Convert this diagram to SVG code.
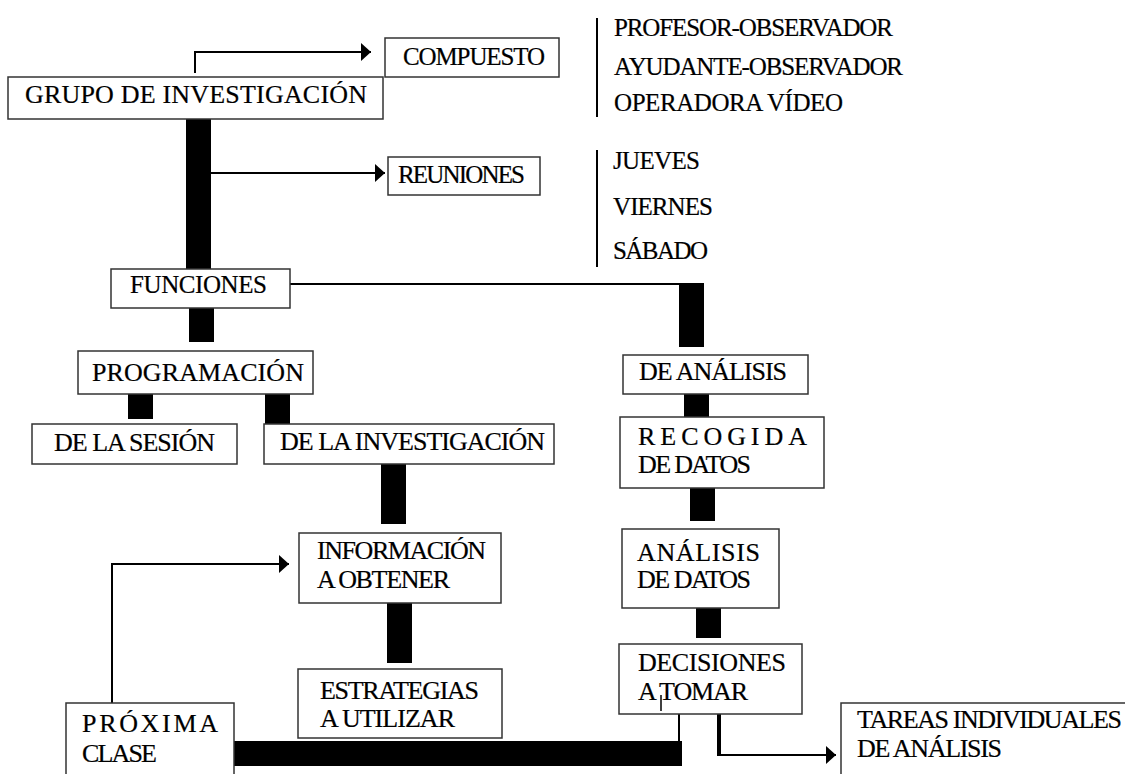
<svg xmlns="http://www.w3.org/2000/svg" width="1125" height="774" viewBox="0 0 1125 774">
<style>
.box{fill:#fff;stroke:#333;stroke-width:1.5}
.t{font-family:'Liberation Serif','Times New Roman',serif;font-size:26px;fill:#000;stroke:#000;stroke-width:0.2}
.s{font-family:'Liberation Serif','Times New Roman',serif;font-size:25px;fill:#000;stroke:#000;stroke-width:0.2}
.bar{fill:#000}
.ln{fill:none;stroke:#000;stroke-width:2}
</style>
<defs>
<marker id="ah" viewBox="0 0 10 18" refX="10" refY="9" markerWidth="10" markerHeight="18" markerUnits="userSpaceOnUse" orient="auto">
<path d="M0,0 L10,9 L0,18 Z" fill="#000"/>
</marker>
</defs>
<rect width="1125" height="774" fill="#fff"/>
<g id="connectors">
<rect class="bar" x="186" y="119" width="25" height="150"/>
<rect class="bar" x="189" y="308" width="25" height="34"/>
<rect class="bar" x="128" y="394" width="25" height="25"/>
<rect class="bar" x="265" y="392" width="25" height="32"/>
<rect class="bar" x="381" y="464" width="25" height="60"/>
<rect class="bar" x="387" y="600" width="25" height="63"/>
<rect class="bar" x="679" y="283" width="25" height="64"/>
<rect class="bar" x="684" y="394" width="25" height="23"/>
<rect class="bar" x="690" y="488" width="25" height="33"/>
<rect class="bar" x="696" y="608" width="25" height="30"/>
<rect class="bar" x="234" y="741" width="448" height="25"/>
<path class="ln" d="M195,73 V52 H371" marker-end="url(#ah)"/>
<path class="ln" d="M211,173 H385" marker-end="url(#ah)"/>
<path class="ln" d="M290,284 H704"/>
<path class="ln" d="M112,703 V564 H289" marker-end="url(#ah)"/>
<path class="ln" d="M679,714 V742"/>
<rect class="bar" x="717" y="714" width="4" height="42"/>
<path class="ln" d="M719,755 H836" marker-end="url(#ah)"/>
<line class="ln" x1="597" y1="18" x2="597" y2="117"/>
<line class="ln" x1="597" y1="150" x2="597" y2="267"/>
</g>
<g id="grupo">
<rect class="box" x="8" y="77" width="375" height="42"/>
<text class="t" x="25" y="103" font-size="27" textLength="342">GRUPO DE INVESTIGACIÓN</text>
</g>
<g id="compuesto">
<rect class="box" x="385" y="38" width="174" height="39"/>
<text class="s" x="403" y="65" textLength="142">COMPUESTO</text>
</g>
<g id="compuesto-lista">
<text class="s" x="614" y="36" textLength="279">PROFESOR-OBSERVADOR</text>
<text class="s" x="614" y="75" textLength="289">AYUDANTE-OBSERVADOR</text>
<text class="s" x="614" y="111" textLength="229">OPERADORA VÍDEO</text>
</g>
<g id="reuniones">
<rect class="box" x="388" y="157" width="152" height="38"/>
<text class="s" x="398" y="183" textLength="127">REUNIONES</text>
</g>
<g id="reuniones-lista">
<text class="s" x="613" y="169" textLength="87">JUEVES</text>
<text class="s" x="613" y="215" textLength="100">VIERNES</text>
<text class="s" x="613" y="259" textLength="95">SÁBADO</text>
</g>
<g id="funciones">
<rect class="box" x="111" y="269" width="179" height="39"/>
<text class="s" x="130" y="293" textLength="137">FUNCIONES</text>
</g>
<g id="programacion">
<rect class="box" x="78" y="351" width="235" height="43"/>
<text class="t" x="92" y="381" font-size="28" textLength="212">PROGRAMACIÓN</text>
</g>
<g id="sesion">
<rect class="box" x="32" y="424" width="205" height="40"/>
<text class="t" x="54" y="451" textLength="161">DE LA SESIÓN</text>
</g>
<g id="investigacion">
<rect class="box" x="264" y="424" width="290" height="40"/>
<text class="t" x="280" y="450" textLength="265">DE LA INVESTIGACIÓN</text>
</g>
<g id="informacion">
<rect class="box" x="299" y="533" width="202" height="70"/>
<text class="t" x="317" y="559" textLength="169">INFORMACIÓN</text>
<text class="t" x="317" y="588" textLength="133">A OBTENER</text>
</g>
<g id="estrategias">
<rect class="box" x="298" y="669" width="204" height="69"/>
<text class="t" x="320" y="699" textLength="159">ESTRATEGIAS</text>
<text class="t" x="320" y="727" textLength="135">A UTILIZAR</text>
</g>
<g id="proxima">
<rect class="box" x="66" y="703" width="168" height="100"/>
<text class="t" x="82" y="732" textLength="136">PRÓXIMA</text>
<text class="t" x="82" y="762" textLength="75">CLASE</text>
</g>
<g id="analisis">
<rect class="box" x="623" y="355" width="185" height="39"/>
<text class="t" x="639" y="380" textLength="148">DE ANÁLISIS</text>
</g>
<g id="recogida">
<rect class="box" x="620" y="417" width="204" height="71"/>
<text class="t" x="638" y="445" textLength="169">RECOGIDA</text>
<text class="t" x="638" y="473" textLength="113">DE DATOS</text>
</g>
<g id="analisis-datos">
<rect class="box" x="622" y="529" width="157" height="79"/>
<text class="t" x="637" y="561" textLength="123">ANÁLISIS</text>
<text class="t" x="637" y="588" textLength="114">DE DATOS</text>
</g>
<g id="decisiones">
<rect class="box" x="619" y="644" width="183" height="70"/>
<text class="t" x="638" y="671" textLength="148">DECISIONES</text>
<text class="t" x="638" y="700" textLength="110">A TOMAR</text>
<line x1="661" y1="695" x2="661" y2="711" stroke="#000" stroke-width="1.5"/>
</g>
<g id="tareas">
<rect class="box" x="841" y="703" width="300" height="100"/>
<text class="t" x="857" y="728" textLength="265">TAREAS INDIVIDUALES</text>
<text class="t" x="857" y="757" textLength="145">DE ANÁLISIS</text>
</g>
</svg>
